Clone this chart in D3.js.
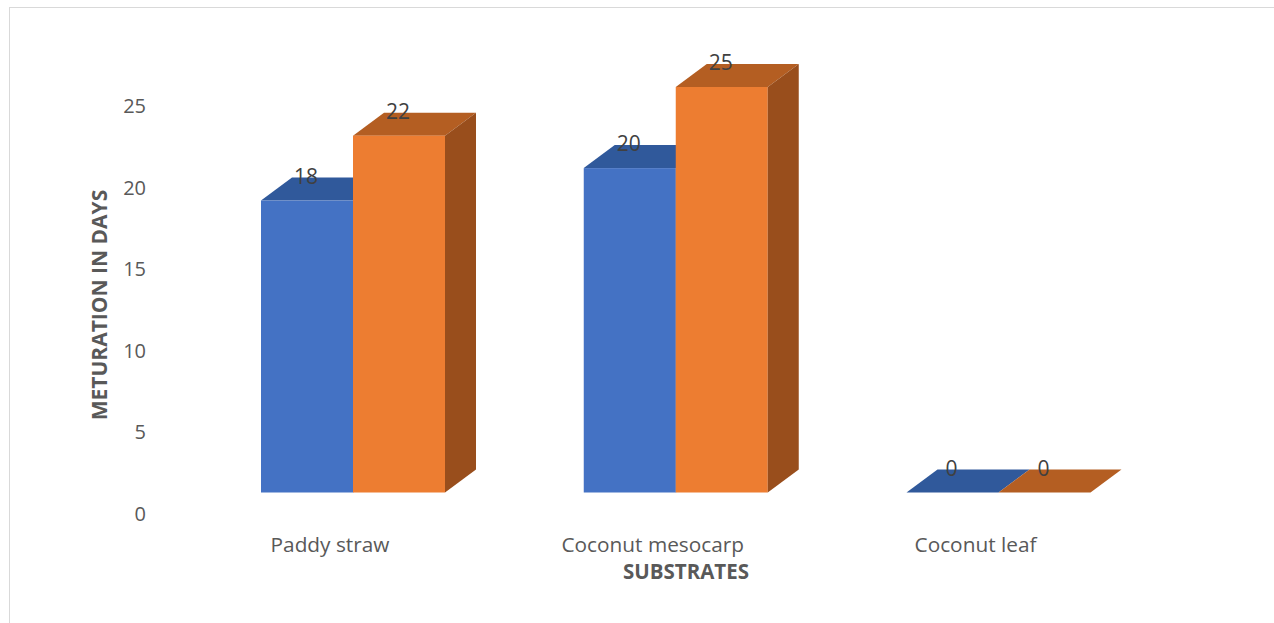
<!DOCTYPE html>
<html>
<head>
<meta charset="utf-8">
<script src="https://cdn.jsdelivr.net/npm/d3@7"></script>
<style>
  html, body { margin: 0; padding: 0; background: #fff; }
  svg { display: block; }
  text { font-family: "Open Sans", "Liberation Sans", sans-serif; }
</style>
</head>
<body>
<svg id="chart" width="1274" height="623"></svg>
<script>
// ---- data ----
const categories = ["Paddy straw", "Coconut mesocarp", "Coconut leaf"];
const seriesNames = ["Series 1", "Series 2"];
const series1 = [18, 20, 0];
const series2 = [22, 25, 0];
const yTicks = [0, 5, 10, 15, 20, 25];
const yTitle = "METURATION IN DAYS";
const xTitle = "SUBSTRATES";

// ---- layout ----
const W = 1274, H = 623;
const svg = d3.select("#chart");
const depthX = 31, depthY = 23;
const barW = 92;

const colors = [
  { front: "#4472C4", top: "#30599B", side: "#2B4E8C" },
  { front: "#ED7D31", top: "#B45E22", side: "#994E1C" }
];

// border
svg.append("rect")
  .attr("x", 9.5).attr("y", 7.5)
  .attr("width", W + 20).attr("height", H + 20)
  .attr("fill", "#fff").attr("stroke", "#D9D9D9").attr("stroke-width", 1);

const x = d3.scalePoint().domain(categories).range([353, 998.5]);
const xs = d3.scaleBand().domain(seriesNames).range([-barW, barW]).padding(0);
const y = d3.scaleLinear().domain([0, 25]).range([492.5, 87]);
const yAxisScale = d3.scaleLinear().domain([0, 25]).range([514, 106.5]);

// y axis labels
const yAxis = d3.axisLeft(yAxisScale).tickValues(yTicks).tickSize(0).tickPadding(0);
const gy = svg.append("g").attr("transform", "translate(146,0)").call(yAxis);
gy.select(".domain").remove();
gy.selectAll("text")
  .attr("fill", "#595959")
  .style("font-size", "20px")
  .style("font-family", "'Open Sans', sans-serif");

// bars
const allSeries = [series1, series2];
const gBars = svg.append("g");
categories.forEach((cat, ci) => {
  allSeries.forEach((vals, si) => {
    const v = vals[ci];
    const x0 = x(cat) + xs(seriesNames[si]);
    const x1 = x0 + xs.bandwidth();
    const yt = y(v), yb = y(0);
    const c = colors[si];
    // top face
    gBars.append("path")
      .attr("d", `M${x0},${yt} L${x1},${yt} L${x1 + depthX},${yt - depthY} L${x0 + depthX},${yt - depthY} Z`)
      .attr("fill", c.top);
    // front face
    if (yb - yt > 0) {
      gBars.append("rect")
        .attr("x", x0).attr("y", yt)
        .attr("width", x1 - x0).attr("height", yb - yt)
        .attr("fill", c.front);
      // side face
      gBars.append("path")
        .attr("d", `M${x1},${yt} L${x1 + depthX},${yt - depthY} L${x1 + depthX},${yb - depthY} L${x1},${yb} Z`)
        .attr("fill", c.side);
    }
  });
});

// data labels
categories.forEach((cat, ci) => {
  allSeries.forEach((vals, si) => {
    const v = vals[ci];
    const cx = x(cat) + xs(seriesNames[si]) + xs.bandwidth() / 2 - 1;
    svg.append("text")
      .attr("x", cx)
      .attr("y", y(v) - depthY + 6)
      .attr("text-anchor", "middle")
      .attr("fill", "#404040")
      .style("font-size", "21px")
      .text(v);
  });
});

// category labels
svg.append("g").selectAll("text")
  .data(categories)
  .join("text")
  .attr("x", d => x(d) - 23)
  .attr("y", 552)
  .attr("text-anchor", "middle")
  .attr("fill", "#595959")
  .style("font-size", "20.8px")
  .text(d => d);

// axis titles
svg.append("text")
  .attr("x", 686).attr("y", 579)
  .attr("text-anchor", "middle")
  .attr("fill", "#595959")
  .style("font-size", "20.5px")
  .style("font-weight", "bold")
  .text(xTitle);

svg.append("text")
  .attr("transform", "translate(107,305) rotate(-90)")
  .attr("text-anchor", "middle")
  .attr("fill", "#595959")
  .style("font-size", "21px")
  .style("font-weight", "bold")
  .text(yTitle);
</script>
</body>
</html>
